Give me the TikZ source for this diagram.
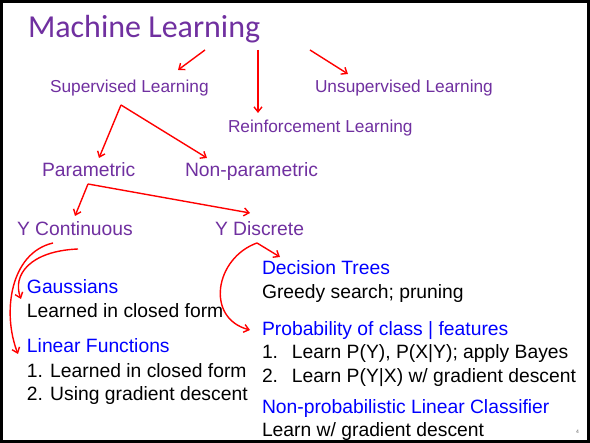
\documentclass[tikz,border=0pt]{standalone}
\usepackage{fontspec}
\setmainfont{Liberation Sans}
\newfontfamily\titlefont{Carlito}
\usetikzlibrary{arrows.meta}
\definecolor{mlpurple}{HTML}{7030A0}
\definecolor{mlblue}{HTML}{0000FF}
\definecolor{mlred}{HTML}{FF0000}
\begin{document}
\begin{tikzpicture}[x=1pt,y=1pt,
  lbl/.style={anchor=base west, inner sep=0pt, outer sep=0pt},
  cat/.style={lbl, text=mlpurple, font=\fontsize{17.3}{20}\selectfont},
  sub/.style={lbl, text=mlpurple, font=\fontsize{19.3}{22}\selectfont},
  head/.style={lbl, text=mlblue, font=\fontsize{19.3}{22}\selectfont},
  body/.style={lbl, text=black, font=\fontsize{19.3}{22}\selectfont},
  arr/.style={mlred, line width=1.4pt, -{Straight Barb[length=5pt,width=8pt]}}]
\useasboundingbox (0,0) rectangle (590,443);
\fill[white] (0,0) rectangle (590,443);
\draw[line width=3pt] (1.5,1.5) rectangle (588.5,441.5);

\node[lbl, text=mlpurple, font=\titlefont\fontsize{32}{38}\selectfont] (title) at (28,405) {Machine Learning};
\node[cat] (sup) at (50,350) {Supervised Learning};
\node[cat] (unsup) at (315,350) {Unsupervised Learning};
\node[cat] (reinf) at (228,310) {Reinforcement Learning};
\node[sub] (param) at (42,266) {Parametric};
\node[sub] (nonparam) at (185,266) {Non-parametric};
\node[sub] (ycont) at (17,207) {Y Continuous};
\node[sub] (ydisc) at (215,207) {Y Discrete};

\node[head] (gauss) at (27,149) {Gaussians};
\node[body] (gaussb) at (27,125) {Learned in closed form};
\node[head] (linf) at (27,90) {Linear Functions};
\node[body] (lin1) at (27,65) {1. Learned in closed form};
\node[body] (lin2) at (27,42) {2. Using gradient descent};

\node[head] (dt) at (262,168) {Decision Trees};
\node[body] (dtb) at (262,144) {Greedy search; pruning};
\node[head] (prob) at (262,107) {Probability of class | features};
\node[body] (prob1) at (262,84) {\makebox[30pt][l]{1.}Learn P(Y), P(X|Y); apply Bayes};
\node[body] (prob2) at (262,60) {\makebox[30pt][l]{2.}Learn P(Y|X) w/ gradient descent};
\node[head] (nplc) at (262,29) {Non-probabilistic Linear Classifier};
\node[body] (nplcb) at (262,6) {Learn w/ gradient descent};
\node[lbl, text=black!60, font=\fontsize{5}{6}\selectfont] (pg) at (576,9) {4};

% connector end points
\coordinate (mlA) at (205,393);
\coordinate (mlB) at (258,393);
\coordinate (mlC) at (310,393);
\coordinate (supT) at (178,373);
\coordinate (reinfT) at (258,330);
\coordinate (unsupT) at (348,369);
\coordinate (supApex) at (121,338);
\coordinate (paramT) at (99,285);
\coordinate (nonparamT) at (207,285);
\coordinate (paramApex) at (88,259);
\coordinate (ycontT) at (75,227);
\coordinate (ydiscT) at (250,230);
\coordinate (ycA) at (78,194);
\coordinate (ycB) at (53,200);
\coordinate (gaussT) at (21,144);
\coordinate (linfT) at (18,89);
\coordinate (ydApex) at (257,200);
\coordinate (dtT) at (280,186);
\coordinate (probT) at (250,113);

\draw[arr] (mlA) -- (supT);
\draw[arr] (mlB) -- (reinfT);
\draw[arr] (mlC) -- (unsupT);
\draw[arr] (supApex) -- (paramT);
\draw[arr] (supApex) -- (nonparamT);
\draw[arr] (paramApex) -- (ycontT);
\draw[arr] (paramApex) -- (ydiscT);
\draw[arr] (ycA) .. controls (30,192) and (12,168) .. (gaussT);
\draw[arr] (ycB) .. controls (10,190) and (2,130) .. (linfT);
\draw[arr] (ydApex) -- (dtT);
\draw[arr] (ydApex) .. controls (215,185) and (205,125) .. (probT);
\end{tikzpicture}
\end{document}
